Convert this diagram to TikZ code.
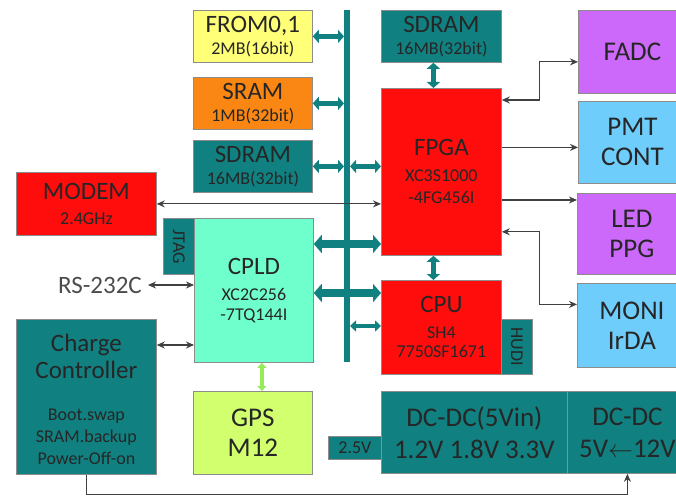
\documentclass[tikz,border=0pt]{standalone}
\usepackage{fontspec}
\usepackage{graphicx}
\setmainfont{Carlito}
\usetikzlibrary{arrows.meta, calc}
\definecolor{cTeal}{RGB}{16,128,128}
\definecolor{cRed}{RGB}{255,12,12}
\definecolor{cYel}{RGB}{255,255,120}
\definecolor{cOrg}{RGB}{250,135,20}
\definecolor{cAqua}{RGB}{110,255,205}
\definecolor{cLime}{RGB}{210,255,110}
\definecolor{cPurp}{RGB}{205,105,250}
\definecolor{cSky}{RGB}{110,205,250}
\definecolor{cGrn}{RGB}{150,235,90}
\newcommand\fsml{\fontsize{18}{20}\selectfont}

\begin{document}
\begin{tikzpicture}[x=1pt,y=-1pt,
  blk/.style={draw=black!45, line width=0.8pt, inner sep=0pt, align=center, text=black!85, anchor=north west},
  fmem/.style={font=\fontsize{25}{22}\selectfont},
  fout/.style={font=\fontsize{27}{30}\selectfont},
  fdc/.style={font=\fontsize{27}{32}\selectfont},
  tmid/.style={draw=cTeal, line width=5pt, {Triangle[length=6pt,width=13pt]}-{Triangle[length=6pt,width=13pt]}},
  tbig/.style={draw=cTeal, line width=8pt, {Triangle[length=8pt,width=18pt]}-{Triangle[length=8pt,width=18pt]}},
  tsml/.style={draw=cTeal, line width=3.5pt, {Triangle[length=6pt,width=11pt]}-{Triangle[length=6pt,width=11pt]}},
  tgps/.style={draw=cGrn, line width=3.5pt, {Triangle[length=5pt,width=9pt]}-{Triangle[length=5pt,width=9pt]}},
  sig/.style={draw=black!75, line width=1.1pt, {Stealth[length=8pt,width=7pt]}-{Stealth[length=8pt,width=7pt]}},
  sig1/.style={draw=black!75, line width=1.1pt, -{Stealth[length=8pt,width=7pt]}}]
\useasboundingbox (0,0) rectangle (676,497);

% memories on the bus
\node[blk, fmem, fill=cYel, minimum width=119pt, minimum height=52pt] (from) at (193,10) {FROM0,1\\{\fsml 2MB(16bit)}};
\node[blk, fmem, fill=cOrg, minimum width=119pt, minimum height=52pt] (sram) at (193,77) {SRAM\\{\fsml 1MB(32bit)}};
\node[blk, fmem, fill=cTeal, minimum width=119pt, minimum height=52pt] (sdramL) at (193,140) {SDRAM\\{\fsml 16MB(32bit)}};
\node[blk, fmem, fill=cTeal, minimum width=120pt, minimum height=52pt] (sdramT) at (381,10) {SDRAM\\{\fsml 16MB(32bit)}};

% left side
\node[blk, fmem, fill=cRed, minimum width=140pt, minimum height=63pt] (modem) at (16,172) {MODEM\\[3pt]{\fsml 2.4GHz}};
\node[blk, fill=cTeal, minimum width=31pt, minimum height=56pt] (jtag) at (163,218) {\rotatebox{-90}{\fsml JTAG}};
\node[blk, fmem, fill=cAqua, minimum width=119pt, minimum height=144pt] (cpld) at (194,218) {CPLD\\[4pt]{\fsml XC2C256}\\[-2pt]{\fsml -7TQ144I}};
\node[font=\fontsize{25}{27}\selectfont, text=black!70, inner sep=2pt] (rs) at (100,285) {RS-232C};
\node[blk, fill=cTeal, minimum width=140pt, minimum height=155pt] (chg) at (16,319) {};
\node[font=\fontsize{25}{27}\selectfont, align=center, text=black!85, inner sep=0pt] (chgT) at ([yshift=-37pt]chg.north) {Charge\\Controller};
\node[font=\fontsize{18}{22}\selectfont, align=center, text=black!85, inner sep=0pt] (chgL) at ([yshift=-118pt]chg.north) {Boot.swap\\SRAM.backup\\Power-Off-on};
\node[blk, fout, fill=cLime, minimum width=119pt, minimum height=83pt] (gps) at (193,391) {GPS\\M12};

% FPGA and CPU
\node[blk, fmem, fill=cRed, minimum width=120pt, minimum height=167pt] (fpga) at (381,88) {FPGA\\[4pt]{\fsml XC3S1000}\\{\fsml -4FG456I}};
\node[blk, fmem, fill=cRed, minimum width=120pt, minimum height=94pt] (cpu) at (381,280) {CPU\\[4pt]{\fsml SH4}\\[-3pt]{\fsml 7750SF1671}};
\node[blk, fill=cTeal, minimum width=31pt, minimum height=55pt] (hudi) at (501,319) {\rotatebox{-90}{\fsml HUDI}};

% right side
\node[blk, fout, fill=cPurp, minimum width=108pt, minimum height=83pt] (fadc) at (578,10) {FADC};
\node[blk, fout, fill=cSky, minimum width=108pt, minimum height=82pt] (pmt) at (578,101) {PMT\\CONT};
\node[blk, fout, fill=cPurp, minimum width=109pt, minimum height=81pt] (led) at (577,193) {LED\\PPG};
\node[blk, fout, fill=cSky, minimum width=109pt, minimum height=84pt] (moni) at (577,283) {MONI\\IrDA};

% power
\node[blk, fdc, fill=cTeal, minimum width=186pt, minimum height=82pt] (dcL) at (381,391) {DC-DC(5Vin)\\1.2V 1.8V 3.3V};
\node[blk, fdc, fill=cTeal, minimum width=120pt, minimum height=82pt] (dcR) at (567,391) {DC-DC\\5V$\leftarrow$12V};
\node[blk, fill=cTeal, minimum width=53pt, minimum height=23pt, font=\fsml] (v25) at (328,436) {2.5V};

% bus
\coordinate (busT) at (347,10);
\coordinate (busB) at (347,362);
\foreach \n in {from,sram,sdramL}
  \draw[tmid, shorten >=3pt] (\n.east) -- (\n.east -| busT);
\draw[tmid, shorten <=3pt] (sdramL.east -| busT) -- (sdramL.east -| fpga.west);
\draw[tbig] ([yshift=-26pt]cpld.north east) -- ([yshift=-26pt]cpld.north east -| fpga.west);
\draw[tbig] ([yshift=-13pt]cpu.north west -| cpld.east) -- ([yshift=-13pt]cpu.north west);
\draw[tsml, shorten <=3pt] ([yshift=-46pt]cpu.north west -| busB) -- ([yshift=-46pt]cpu.north west);
\draw[tmid] ([xshift=-8pt]sdramT.south) -- ([xshift=-8pt]fpga.north);
\draw[tmid] ([xshift=-8pt]fpga.south) -- ([xshift=-8pt]cpu.north);
\draw[tgps] ([xshift=8pt]cpld.south) -- ([xshift=8pt]cpld.south |- gps.north);
\draw[cTeal, line width=6pt] (busT) -- (busB);

% signals
\draw[sig] (modem.east) -- (modem.east -| fpga.west);
\draw[sig, shorten <=4pt] (rs.east) -- (rs.east -| cpld.west);
\draw[sig] ([yshift=-26pt]chg.north east) -- ([yshift=-26pt]chg.north east -| cpld.west);
\draw[sig] ([yshift=-12pt]fpga.north east) -- ++(38,0) |- ([yshift=-10pt]fadc.west);
\draw[sig1] ([yshift=-5pt]pmt.west -| fpga.east) -- ([yshift=-5pt]pmt.west);
\draw[sig1] ([yshift=-7pt]led.north west -| fpga.east) -- ([yshift=-7pt]led.north west);
\draw[sig] ([yshift=24pt]fpga.south east) -- ++(38,0) |- ([yshift=21pt]moni.west);
\draw[sig1] (chg.south) -- ++(0,20) -| (dcR.south);
\end{tikzpicture}
\end{document}
